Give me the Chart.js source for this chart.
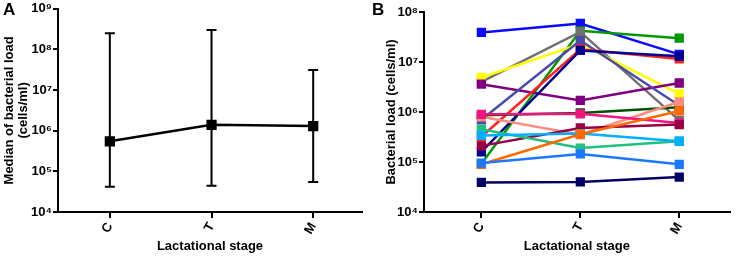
<!DOCTYPE html>
<html>
<head>
<meta charset="utf-8">
<script src="https://cdn.jsdelivr.net/npm/chart.js@4"></script>
<style>
  html, body { margin: 0; padding: 0; background: #fff; }
  body { width: 737px; height: 259px; position: relative; overflow: hidden; font-family: "Liberation Sans", Arial, sans-serif; }
  .panel { position: absolute; top: 0; height: 259px; }
  #panelA { left: 0; width: 370px; }
  #panelB { left: 370px; width: 367px; }
  .tag { position: absolute; top: 0; font-weight: bold; font-size: 17px; color: #000; }
</style>
</head>
<body>
<div class="panel" id="panelA"><canvas id="chartA"></canvas></div>
<div class="panel" id="panelB"><canvas id="chartB"></canvas></div>
<div class="tag" style="left:3px">A</div>
<div class="tag" style="left:372px">B</div>
<script>
// categories
const stages = ['C', 'T', 'M'];

// panel A: medians with ranges
const medianLoad = [5.5e5, 1.4e6, 1.3e6];
const rangeLow = [4.2e4, 4.4e4, 5.5e4];
const rangeHigh = [2.5e8, 3.0e8, 3.1e7];

// panel B: each sample across stages
const sampleColors = [
    '#000066', '#1E78FF', '#FF6A00', '#00B0FF', '#20C080', '#990044', '#F0157F',
    '#FF8C80', '#005000', '#000090', '#FF2020', '#4B4BA8', '#800080', '#FFFF00',
    '#707070', '#009900', '#0A0AFF'
];
const sampleValues = [
    [3.9e4, 4.0e4, 5.0e4],
    [9.5e4, 1.45e5, 9.0e4],
    [9.0e4, 3.6e5, 1.05e6],
    [3.4e5, 3.7e5, 2.6e5],
    [4.5e5, 1.9e5, 2.6e5],
    [2.1e5, 4.8e5, 5.6e5],
    [9.0e5, 9.2e5, 6.0e5],
    [8.0e5, 3.5e5, 1.6e6],
    [8.6e5, 9.6e5, 1.25e6],
    [1.6e5, 1.7e7, 1.3e7],
    [3.2e5, 1.8e7, 1.15e7],
    [7.0e5, 2.7e7, 1.35e6],
    [3.6e6, 1.7e6, 3.8e6],
    [4.9e6, 2.3e7, 2.3e6],
    [4.0e6, 4.0e7, 6.8e5],
    [9.2e4, 4.2e7, 3.0e7],
    [3.9e7, 5.9e7, 1.42e7]
];

const ticksA = [1e4, 1e5, 1e6, 1e7, 1e8, 1e9];
const ticksB = [1e4, 1e5, 1e6, 1e7, 1e8];

const sup = { '0': '\u2070', '1': '\u00B9', '2': '\u00B2', '3': '\u00B3', '4': '\u2074',
              '5': '\u2075', '6': '\u2076', '7': '\u2077', '8': '\u2078', '9': '\u2079' };

function powLabel(v) {
    const e = Math.round(Math.log10(v));
    return '10' + String(e).split('').map(d => sup[d]).join('');
}

const boldFont = { family: '"Liberation Sans", Arial, sans-serif', weight: 'bold' };

function toPoints(vals) {
    return vals.map((v, i) => ({ x: i, y: v }));
}

function makeScales(tickList, yTitle, yWidth, xMin, xMax) {
    return {
        x: {
            type: 'linear',
            min: xMin,
            max: xMax,
            afterBuildTicks: s => { s.ticks = stages.map((_, i) => ({ value: i })); },
            grid: { display: true, drawOnChartArea: false, drawTicks: true, tickLength: 6, color: '#000', lineWidth: 2 },
            border: { color: '#000', width: 2 },
            ticks: { color: '#000', font: Object.assign({ size: 13 }, boldFont), maxRotation: 60, minRotation: 60, padding: 2,
                     callback: v => stages[v] },
            title: { display: true, text: 'Lactational stage', color: '#000', font: Object.assign({ size: 13 }, boldFont), padding: { top: 0, bottom: 5 } },
            afterFit: s => { s.height = 47; }
        },
        y: {
            type: 'logarithmic',
            min: tickList[0],
            max: tickList[tickList.length - 1],
            afterBuildTicks: s => { s.ticks = tickList.map(v => ({ value: v })); },
            grid: { display: true, drawOnChartArea: false, drawTicks: true, tickLength: 5, color: '#000', lineWidth: 2 },
            border: { color: '#000', width: 2 },
            ticks: { color: '#000', font: Object.assign({ size: 13 }, boldFont), padding: 1, callback: v => powLabel(v) },
            title: { display: true, text: yTitle, color: '#000', font: Object.assign({ size: 13, lineHeight: 1.1 }, boldFont), padding: { top: 0, bottom: 2 } },
            afterFit: s => { s.width = yWidth; }
        }
    };
}

// whiskers for panel A
const rangeBars = {
    id: 'rangeBars',
    afterDatasetsDraw(chart) {
        const meta = chart.getDatasetMeta(0);
        const y = chart.scales.y;
        const c = chart.ctx;
        c.save();
        c.strokeStyle = '#000';
        c.lineWidth = 2;
        meta.data.forEach((pt, i) => {
            const top = y.getPixelForValue(rangeHigh[i]);
            const bot = y.getPixelForValue(rangeLow[i]);
            c.beginPath();
            c.moveTo(pt.x, top); c.lineTo(pt.x, bot);
            c.moveTo(pt.x - 5, top); c.lineTo(pt.x + 5, top);
            c.moveTo(pt.x - 5, bot); c.lineTo(pt.x + 5, bot);
            c.stroke();
        });
        c.restore();
    }
};

function setupPanelA() {
    new Chart(document.getElementById('chartA'), {
        type: 'line',
        data: {
            datasets: [{
                data: toPoints(medianLoad),
                borderColor: '#000',
                backgroundColor: '#000',
                borderWidth: 2.5,
                pointStyle: 'rect',
                pointRadius: 5.5,
                tension: 0
            }]
        },
        options: {
            responsive: true,
            maintainAspectRatio: false,
            animation: false,
            layout: { padding: { top: 8, right: 8, left: 2, bottom: 0 } },
            plugins: { legend: { display: false }, tooltip: { enabled: false } },
            scales: makeScales(ticksA, ['Median of bacterial load', '(cells/ml)'], 56, -0.51, 2.48)
        },
        plugins: [rangeBars]
    });
}

function setupPanelB() {
    new Chart(document.getElementById('chartB'), {
        type: 'line',
        data: {
            datasets: sampleValues.map((vals, i) => ({
                data: toPoints(vals),
                borderColor: sampleColors[i],
                backgroundColor: sampleColors[i],
                borderWidth: 2.5,
                pointStyle: 'rect',
                pointRadius: 4.8,
                tension: 0
            }))
        },
        options: {
            responsive: true,
            maintainAspectRatio: false,
            animation: false,
            layout: { padding: { top: 12, right: 4, left: 14, bottom: 0 } },
            plugins: { legend: { display: false }, tooltip: { enabled: false } },
            scales: makeScales(ticksB, 'Bacterial load (cells/ml)', 40, -0.58, 2.51)
        }
    });
}

setupPanelA();
setupPanelB();
</script>
</body>
</html>
